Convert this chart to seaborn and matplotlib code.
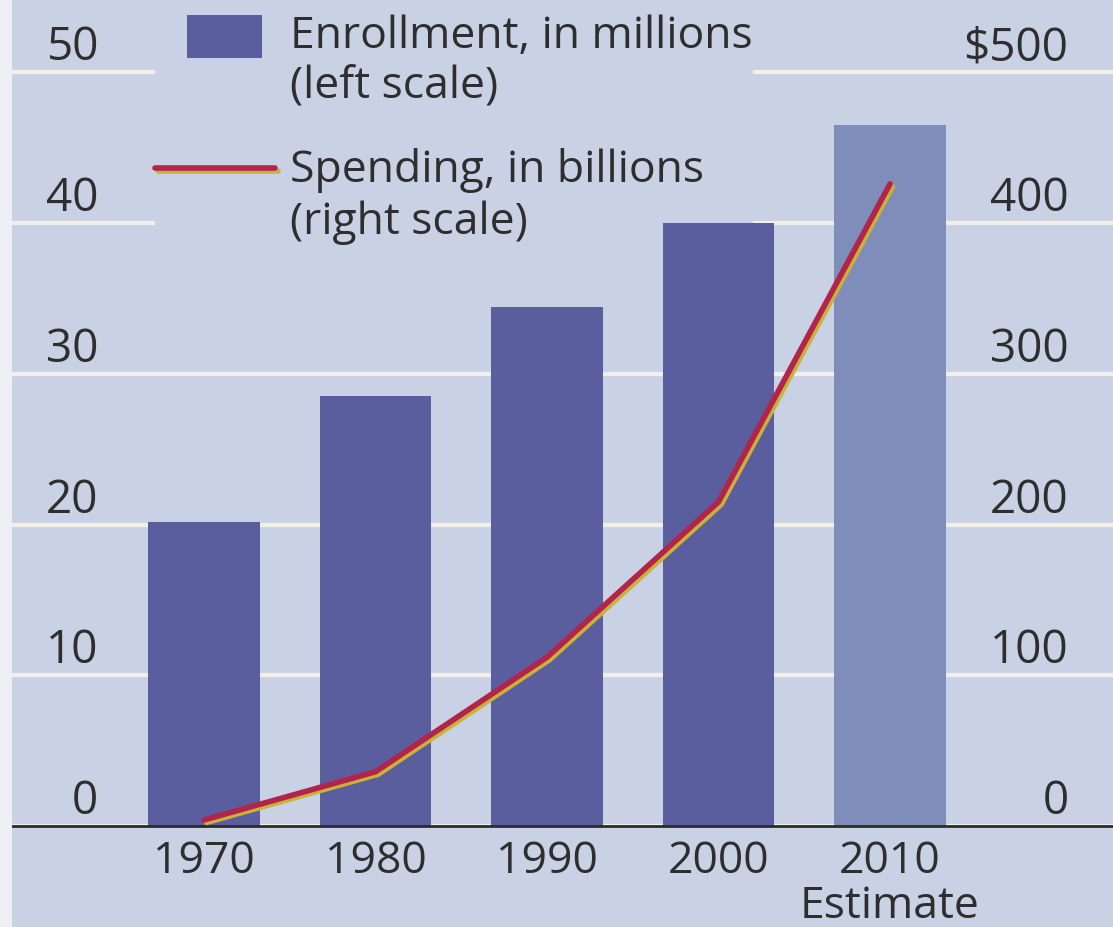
import matplotlib
matplotlib.use("Agg")
import matplotlib.pyplot as plt
import matplotlib.patheffects as pe
from matplotlib.patches import Rectangle
from matplotlib.legend_handler import HandlerPatch, HandlerLine2D
from matplotlib.transforms import ScaledTranslation
import seaborn as sns
import pandas as pd

# values
years = ["1970", "1980", "1990", "2000", "2010\nEstimate"]
enrollment = [20.2, 28.5, 34.4, 40.0, 46.5]   # millions (left scale)
spending = [4, 36, 112, 215, 426]              # billions of dollars (right scale)

left_ticks = [0, 10, 20, 30, 40, 50]
right_ticks = [0, 100, 200, 300, 400, 500]
right_labels = ["0", "100", "200", "300", "400", "$500"]

bg = "#c9d2e5"
bar_dark = "#5a5e9f"
bar_light = "#7f8dba"
grid_col = "#f3eee9"
ink = "#2e2e2e"
fs = 32

sns.set_theme(style="white")
plt.rcParams['font.family'] = ['Open Sans', 'DejaVu Sans']

df = pd.DataFrame({"year": years, "enrollment": enrollment, "spending": spending})
df["pos"] = range(len(df))

fig = plt.figure(figsize=(11.13, 9.27), dpi=100, facecolor=bg)
ax = fig.add_axes([12 / 1113, 101 / 927, 1101 / 1113, 826 / 927])
ax.set_facecolor(bg)
# thin pale strip down the left edge, as in the scan
fig.add_artist(Rectangle((0, 0), 12 / 1113, 1, transform=fig.transFigure,
                         color="#eef0f5", lw=0))

sns.barplot(data=df, x="year", y="enrollment", hue="year",
            palette=[bar_dark] * 4 + [bar_light], width=0.65,
            saturation=1, legend=False, linewidth=0, ax=ax)

ax2 = ax.twinx()
sns.lineplot(data=df, x="pos", y="spending", ax=ax2, color="#b3234a", lw=4,
             path_effects=[pe.SimpleLineShadow(offset=(1.8, -1.8), shadow_color="#c8b238", alpha=1),
                           pe.Normal()])

ax.set_xlim(-1.12, 5.30)
ax.set_ylim(0, 54.8)
ax2.set_ylim(0, 548)

for a in (ax, ax2):
    a.set_xlabel("")
    a.set_ylabel("")
    for s in a.spines.values():
        s.set_visible(False)

ax.set_axisbelow(True)
ax.yaxis.grid(True, color=grid_col, lw=3)
ax.xaxis.grid(False)
ax2.grid(False)
ax.axhline(0, color="#2b2b2b", lw=2, zorder=3, clip_on=False)

# tick labels sit inside the plot, just above their gridlines
lift = ScaledTranslation(0, 0.12, fig.dpi_scale_trans)
ax.set_yticks(left_ticks)
ax.tick_params(axis="y", length=0, pad=-62, labelsize=33, labelcolor=ink)
for lbl in ax.get_yticklabels():
    lbl.set_verticalalignment("baseline")
    lbl.set_transform(lbl.get_transform() + lift)

ax2.set_yticks(right_ticks, labels=right_labels)
ax2.tick_params(axis="y", length=0, pad=-32, labelsize=33, labelcolor=ink)
for lbl in ax2.get_yticklabels():
    lbl.set_horizontalalignment("right")
    lbl.set_verticalalignment("baseline")
    lbl.set_transform(lbl.get_transform() + lift)

ax.tick_params(axis="x", length=0, pad=10, labelsize=fs, labelcolor=ink)
for lbl in ax.get_xticklabels():
    lbl.set_linespacing(1.0)


# legend keys line up with the first line of each two-line label
def small_rect(legend, orig_handle, xdescent, ydescent, width, height, fontsize):
    return Rectangle((-xdescent + 0.27 * width, -ydescent + 14.5), 0.62 * width, 0.97 * fontsize)


class RaisedLine(HandlerLine2D):
    def create_artists(self, *args, **kwargs):
        artists = super().create_artists(*args, **kwargs)
        for a in artists:
            a.set_ydata(a.get_ydata() + 21)
        return artists


bar_handle = ax.patches[0]
line_handle = ax2.lines[0]
leg = ax.legend([bar_handle, line_handle],
                ["Enrollment, in millions\n(left scale)", "Spending, in billions\n(right scale)"],
                loc="upper left", bbox_to_anchor=(143 / 1101, 1 - 14 / 826),
                fontsize=fs, frameon=True, facecolor=bg, edgecolor="none", framealpha=1,
                handlelength=2.7, handletextpad=0.34, labelspacing=0.87,
                borderpad=0, borderaxespad=0, labelcolor=ink,
                handler_map={bar_handle: HandlerPatch(patch_func=small_rect),
                             line_handle: RaisedLine()})
leg.set_zorder(0.8)

fig.savefig("out.png", dpi=100, facecolor=bg)
